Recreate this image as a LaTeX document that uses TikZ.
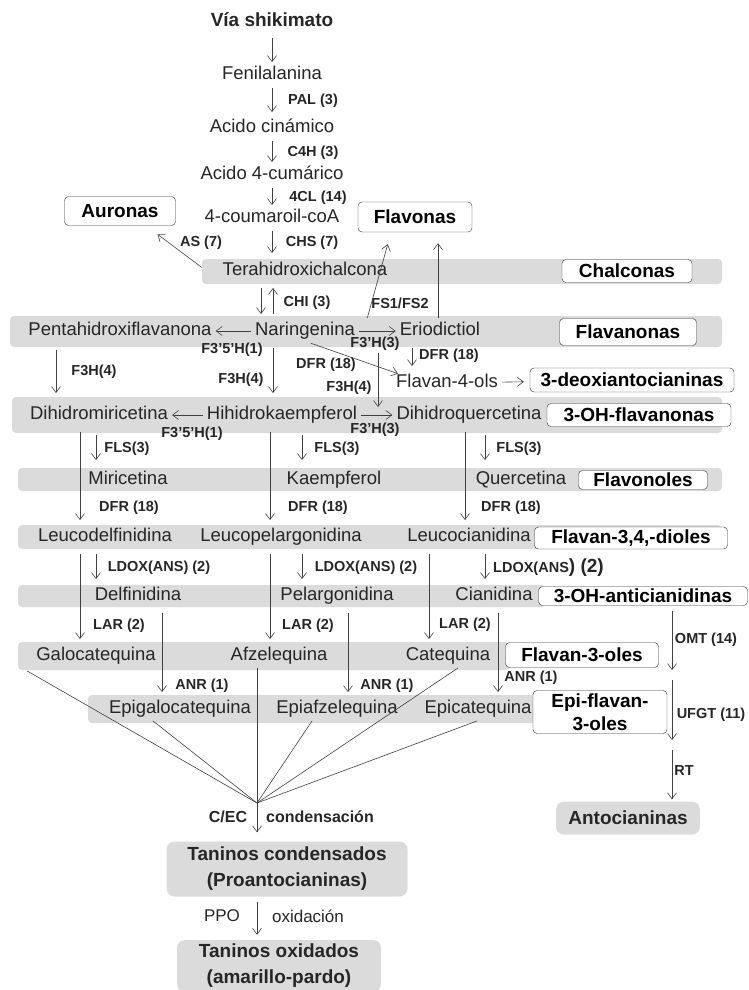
\documentclass[tikz,border=0pt]{standalone}
\usepackage{fontspec}
\setmainfont{Liberation Sans}
\usepackage{tikz}
\usetikzlibrary{arrows.meta, positioning, calc}

\begin{document}
\begin{tikzpicture}[x=1pt, y=-1pt]
    % Styles
    \tikzstyle{cmp} = [inner sep=3pt, text height=13.5pt, text depth=4pt, font=\fontsize{18.5}{20}\selectfont, text=black!85]
    \tikzstyle{enz} = [inner sep=0pt, font=\fontsize{14.5}{16}\selectfont\bfseries, text=black!85]
    \tikzstyle{cls} = [rectangle, draw=black!80, fill=white, rounded corners=4pt, inner sep=0pt, align=center, font=\fontsize{19}{23}\selectfont\bfseries]
    \tikzstyle{grp} = [rectangle, fill=black!14, rounded corners=8pt, inner sep=0pt, align=center, text=black!85, font=\fontsize{19}{26}\selectfont\bfseries]
    \tikzstyle{band} = [fill=black!14, rounded corners=4pt]
    \tikzstyle{arrow} = [draw=black!75, line width=0.6pt, ->, >={Straight Barb[length=6pt, width=9pt]}, shorten >=5pt, shorten <=5pt]
    \tikzstyle{harrow} = [arrow, shorten >=1pt, shorten <=1pt]
    \tikzstyle{line} = [draw=black!75, line width=0.6pt]

    \useasboundingbox (0,0) rectangle (749,990);

    % Bands
    \fill[band] (202,259) rectangle (722,284);
    \fill[band] (10,316) rectangle (722,347);
    \fill[band] (12,397) rectangle (722,433);
    \fill[band] (18,468) rectangle (722,491);
    \fill[band] (18,525) rectangle (722,549);
    \fill[band] (18,585) rectangle (545,607);
    \fill[band] (18,642) rectangle (510,670);
    \fill[band] (88,695) rectangle (540,723);

    % Main path
    \node[cmp, font=\fontsize{19}{21}\selectfont\bfseries] (shik) at (272,22) {Vía shikimato};
    \node[cmp] (fen) at (272,75) {Fenilalanina};
    \node[cmp] (cin) at (272,128) {Acido cinámico};
    \node[cmp] (cum) at (272,175) {Acido 4-cumárico};
    \node[cmp] (coa) at (272,218) {4-coumaroil-coA};
    \node[cmp] (tetra) at (305,271) {Terahidroxichalcona};

    % Flavanonas
    \node[cmp] (penta) at (120,331) {Pentahidroxiflavanona};
    \node[cmp] (nar) at (305,331) {Naringenina};
    \node[cmp] (erio) at (440,331) {Eriodictiol};
    \node[cmp] (f4ol) at (447,383) {Flavan-4-ols};

    % 3-OH-flavanonas
    \node[cmp] (dhm) at (99,415) {Dihidromiricetina};
    \node[cmp] (hk) at (282,415) {Hihidrokaempferol};
    \node[cmp] (dhq) at (469,415) {Dihidroquercetina};

    % Flavonoles
    \node[cmp] (mir) at (128,480) {Miricetina};
    \node[cmp] (kae) at (334,480) {Kaempferol};
    \node[cmp] (que) at (521,480) {Quercetina};

    % Flavan-3,4-dioles
    \node[cmp] (lde) at (105,537) {Leucodelfinidina};
    \node[cmp] (lpe) at (281,537) {Leucopelargonidina};
    \node[cmp] (lci) at (469,537) {Leucocianidina};

    % Anticianidinas
    \node[cmp] (del) at (138,596) {Delfinidina};
    \node[cmp] (pel) at (337,596) {Pelargonidina};
    \node[cmp] (cia) at (494,596) {Cianidina};

    % Flavan-3-oles
    \node[cmp] (gal) at (96,656) {Galocatequina};
    \node[cmp] (afz) at (279,656) {Afzelequina};
    \node[cmp] (cat) at (448,656) {Catequina};

    % Epi-flavan-3-oles
    \node[cmp] (egal) at (180,709) {Epigalocatequina};
    \node[cmp] (eafz) at (337,709) {Epiafzelequina};
    \node[cmp] (ecat) at (478,709) {Epicatequina};

    % Classes
    \node[cls, minimum width=111pt, minimum height=29pt] (auronas) at (120,211) {Auronas};
    \node[cls, minimum width=114pt, minimum height=30pt] (flavonas) at (415,217) {Flavonas};
    \node[cls, minimum width=130pt, minimum height=23pt] (chalconas) at (627,271) {Chalconas};
    \node[cls, minimum width=137pt, minimum height=27pt] (flavanonas) at (628,332) {Flavanonas};
    \node[cls, minimum width=204pt, minimum height=24pt] (deoxi) at (632,380) {3-deoxiantocianinas};
    \node[cls, minimum width=184pt, minimum height=23pt] (ohflav) at (639,415) {3-OH-flavanonas};
    \node[cls, minimum width=129pt, minimum height=19pt] (flavonoles) at (643,480) {Flavonoles};
    \node[cls, minimum width=193pt, minimum height=22pt] (dioles) at (631,538) {Flavan-3,4,-dioles};
    \node[cls, minimum width=209pt, minimum height=19pt] (ohanto) at (643,596) {3-OH-anticianidinas};
    \node[cls, minimum width=153pt, minimum height=25pt] (fl3oles) at (582,655) {Flavan-3-oles};
    \node[cls, minimum width=134pt, minimum height=43pt] (epifl) at (600,712) {Epi-flavan-\\3-oles};

    % Products
    \node[grp, minimum width=144pt, minimum height=33pt] (anto) at (628,818) {Antocianinas};
    \node[grp, minimum width=241pt, minimum height=55pt] (tcond) at (287,869) {Taninos condensados\\(Proantocianinas)};
    \node[grp, minimum width=204pt, minimum height=52pt] (tox) at (279,966) {Taninos oxidados\\(amarillo-pardo)};

    % Enzymes
    \node[enz] (pal) at (313,101) {PAL (3)};
    \node[enz] (c4h) at (313,153) {C4H (3)};
    \node[enz] (cl4) at (318,198) {4CL (14)};
    \node[enz] (chs) at (312,243) {CHS (7)};
    \node[enz] (as) at (201,243) {AS (7)};
    \node[enz] (chi) at (307,303) {CHI (3)};
    \node[enz] (fs) at (400,303) {FS1/FS2};
    \node[enz] (f35a) at (232,350) {F3’5’H(1)};
    \node[enz] (f3a) at (375,344) {F3’H(3)};
    \node[enz] (dfra) at (326,365) {DFR (18)};
    \node[enz] (dfrb) at (449,356) {DFR (18)};
    \node[enz] (f3ha) at (94,372) {F3H(4)};
    \node[enz] (f3hb) at (241,380) {F3H(4)};
    \node[enz] (f3hc) at (349,388) {F3H(4)};
    \node[enz] (f35b) at (192,434) {F3’5’H(1)};
    \node[enz] (f3b) at (375,430) {F3’H(3)};
    \node[enz] (flsa) at (127,449) {FLS(3)};
    \node[enz] (flsb) at (337,449) {FLS(3)};
    \node[enz] (flsc) at (519,449) {FLS(3)};
    \node[enz] (dfrc) at (129,508) {DFR (18)};
    \node[enz] (dfrd) at (318,508) {DFR (18)};
    \node[enz] (dfre) at (511,508) {DFR (18)};
    \node[enz] (ldoxa) at (159,568) {LDOX(ANS) (2)};
    \node[enz] (ldoxb) at (366,568) {LDOX(ANS) (2)};
    \node[enz, anchor=west] (ldoxc) at (493,568) {LDOX(ANS{\fontsize{19}{20}\selectfont) (2)}};
    \node[enz] (lara) at (119,626) {LAR (2)};
    \node[enz] (larb) at (308,626) {LAR (2)};
    \node[enz] (larc) at (465,625) {LAR (2)};
    \node[enz] (anra) at (202,686) {ANR (1)};
    \node[enz] (anrb) at (387,686) {ANR (1)};
    \node[enz] (anrc) at (531,678) {ANR (1)};
    \node[enz] (omtl) at (706,640) {OMT (14)};
    \node[enz] (ufgtl) at (711,715) {UFGT (11)};
    \node[enz] (rt) at (684,771) {RT};
    \node[enz, font=\fontsize{16}{18}\selectfont\bfseries] (cecl) at (228,817) {C/EC};
    \node[enz, font=\fontsize{16}{18}\selectfont\bfseries] (cond) at (320,817) {condensación};
    \node[enz, font=\fontsize{17}{18}\selectfont] (ppo) at (222,916) {PPO};
    \node[enz, font=\fontsize{17}{18}\selectfont] (oxi) at (308,916) {oxidación};

    % Arrows
    \draw[harrow, shorten <=4pt] (shik) -- (fen);
    \draw[harrow, shorten >=4pt] (fen) -- (cin);
    \draw[harrow] (cin) -- (cum);
    \draw[harrow] (cum) -- (coa);
    \draw[harrow, shorten >=6pt] (coa) -- (coa |- tetra.north);
    \draw[harrow] ([shift={(-17pt,3pt)}]tetra.west) -- ([shift={(-19pt,-8pt)}]auronas.south east);
    \draw[arrow] ([xshift=-44pt]tetra.south) -- ([xshift=-44pt]tetra.south |- nar.north);
    \draw[arrow] ([xshift=-32pt]nar.north) -- ([xshift=-32pt]nar.north |- tetra.south);
    \draw[harrow] (nar) -- (penta);
    \draw[harrow] (nar) -- (erio);
    \draw[harrow] ([xshift=62pt]nar.north) -- ([shift={(-27pt,-11pt)}]flavonas.south);
    \draw[harrow, shorten >=11pt] ([xshift=-2pt]erio.north) -- ([xshift=-2pt]erio.north |- flavonas.south);
    \draw[harrow] ([xshift=5pt]nar.south) -- ([shift={(6pt,9pt)}]f4ol.west);
    \draw[arrow] ([xshift=-28pt]erio.south) -- ([xshift=-28pt]erio.south |- f4ol.north);
    \draw[harrow, shorten >=6pt] (f4ol) -- (deoxi);
    \draw[arrow, shorten <=10pt, shorten >=8pt] ([xshift=-62pt]erio.south) -- ([xshift=-62pt]erio.south |- dhq.west);
    \draw[arrow, shorten >=10pt] ([xshift=-32pt]nar.south) -- ([xshift=-32pt]nar.south |- hk.north);
    \draw[arrow, shorten <=7pt, shorten >=10pt] ([xshift=-64pt]penta.south) -- ([xshift=-64pt]penta.south |- dhm.north);
    \draw[harrow] (hk) -- (dhm);
    \draw[harrow] (hk) -- (dhq);
    \draw[arrow, shorten <=8pt, shorten >=8pt] ([xshift=-3pt]dhm.south) -- ([xshift=-3pt]dhm.south |- mir.north);
    \draw[arrow, shorten <=8pt, shorten >=8pt] ([xshift=20pt]hk.south) -- ([xshift=20pt]hk.south |- kae.north);
    \draw[arrow, shorten <=8pt, shorten >=8pt] ([xshift=16pt]dhq.south) -- ([xshift=16pt]dhq.south |- que.north);
    \draw[arrow] ([xshift=-19pt]dhm.south) -- ([xshift=-19pt]dhm.south |- lde.north);
    \draw[arrow] ([xshift=-12pt]hk.south) -- ([xshift=-12pt]hk.south |- lpe.north);
    \draw[arrow] ([xshift=-4pt]dhq.south) -- ([xshift=-4pt]dhq.south |- lci.north);
    \draw[arrow] ([xshift=-9pt]lde.south) -- ([xshift=-9pt]lde.south |- del.north);
    \draw[arrow] ([xshift=21pt]lpe.south) -- ([xshift=21pt]lpe.south |- pel.north);
    \draw[arrow] ([xshift=16pt]lci.south) -- ([xshift=16pt]lci.south |- cia.north);
    \draw[arrow] ([xshift=-25pt]lde.south) -- ([xshift=-25pt]lde.south |- gal.north);
    \draw[arrow] ([xshift=-11pt]lpe.south) -- ([xshift=-11pt]lpe.south |- afz.north);
    \draw[arrow] ([xshift=-40pt]lci.south) -- ([xshift=-40pt]lci.south |- cat.north);
    \draw[arrow] ([xshift=24pt]del.south) -- ([xshift=24pt]del.south |- egal.north);
    \draw[arrow] ([xshift=11pt]pel.south) -- ([xshift=11pt]pel.south |- eafz.north);
    \draw[arrow] ([xshift=4pt]cia.south) -- ([xshift=4pt]cia.south |- ecat.north);

    % Antocianinas branch
    \coordinate (omt) at (672,675);
    \coordinate (ufgt) at (672,745);
    \draw[arrow] (ohanto.south -| omt) -- (omt);
    \draw[arrow] (omt) -- (ufgt);
    \draw[arrow, shorten >=2pt] (ufgt) -- (ufgt |- anto.north);

    % Condensation
    \coordinate (cec) at (257,803);
    \draw[line] ([shift={(-6pt,-3pt)}]gal.south west) -- (cec);
    \draw[line] ([xshift=-27pt]egal.south) -- (cec);
    \draw[line] ([xshift=-22pt]afz.south) -- (cec);
    \draw[line] ([xshift=-25pt]eafz.south) -- (cec);
    \draw[line] ([xshift=10pt]cat.south) -- (cec);
    \draw[line] ([xshift=-1pt]ecat.south) -- (cec);
    \draw[arrow, shorten <=0pt, shorten >=9pt] (cec) -- (cec |- tcond.north);
    \draw[arrow] ([xshift=-30pt]tcond.south) -- ([xshift=-30pt]tcond.south |- tox.north);
\end{tikzpicture}
\end{document}
